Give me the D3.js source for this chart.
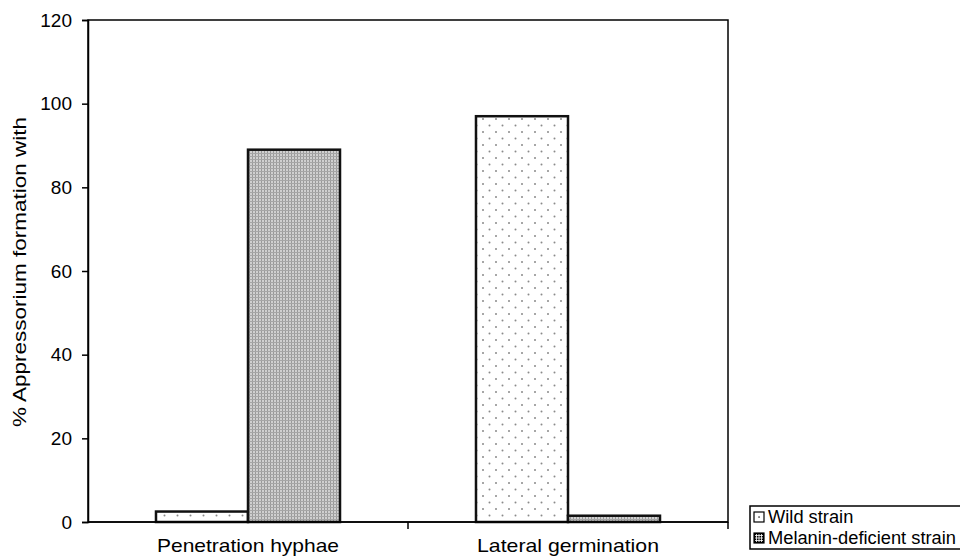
<!DOCTYPE html>
<html><head><meta charset="utf-8">
<script src="https://cdnjs.cloudflare.com/ajax/libs/d3/7.8.5/d3.min.js"></script>
<style>body{margin:0;background:#fff}svg{display:block}text{font-family:"Liberation Sans",Arial,sans-serif}</style>
</head><body>
<script>
const categories = ["Penetration hyphae", "Lateral germination"];
const seriesNames = ["Wild strain", "Melanin-deficient strain"];
const wildValues = [2.5, 97];
const melaninValues = [89, 1.5];
const yTicks = [0, 20, 40, 60, 80, 100, 120];

const W = 960, H = 556;
const m = {left: 88, top: 20, right: 728, bottom: 522};
const svg = d3.select("body").append("svg").attr("width", W).attr("height", H);

const defs = svg.append("defs");
const pw = defs.append("pattern").attr("id","pWild").attr("patternUnits","userSpaceOnUse").attr("width",13).attr("height",13);
pw.append("rect").attr("width",13).attr("height",13).attr("fill","#fff");
pw.append("circle").attr("cx",2).attr("cy",2).attr("r",1).attr("fill","#8a8a8a");
pw.append("circle").attr("cx",8.5).attr("cy",8.5).attr("r",1).attr("fill","#8a8a8a");
const pm = defs.append("pattern").attr("id","pMel").attr("patternUnits","userSpaceOnUse").attr("width",3).attr("height",3);
pm.append("rect").attr("width",3).attr("height",3).attr("fill","#d0d0d0");
pm.append("rect").attr("x",0).attr("y",0).attr("width",1).attr("height",3).attr("fill","#999");
pm.append("rect").attr("x",0).attr("y",0).attr("width",3).attr("height",1).attr("fill","#a6a6a6");

const y = d3.scaleLinear().domain([0,120]).range([m.bottom, m.top]);
const x0 = d3.scaleBand().domain(categories).range([m.left, m.right]).padding(0);
const x1 = d3.scaleBand().domain(seriesNames).range([0, x0.bandwidth()]).paddingInner(0).paddingOuter(0.739);
const fills = ["url(#pWild)", "url(#pMel)"];

// frame
svg.append("rect").attr("x",m.left).attr("y",m.top).attr("width",m.right-m.left).attr("height",m.bottom-m.top)
  .attr("fill","none").attr("stroke","#000").attr("stroke-width",1.5);

const rows = categories.map((c,i)=>({cat:c, vals:[wildValues[i], melaninValues[i]]}));
const g = svg.append("g");
rows.forEach(r=>{
  r.vals.forEach((v,j)=>{
    g.append("rect").attr("x", x0(r.cat)+x1(seriesNames[j])).attr("y", y(v))
      .attr("width", x1.bandwidth()).attr("height", y(0)-y(v))
      .attr("fill", fills[j]).attr("stroke","#111").attr("stroke-width",2.5);
  });
});

// y axis
const ya = svg.append("g").attr("transform",`translate(${m.left},0)`)
  .call(d3.axisLeft(y).tickValues(yTicks).tickSize(6).tickPadding(10));
ya.selectAll("path").attr("stroke","#000").attr("stroke-width",1.5);
ya.selectAll("line").attr("stroke","#000").attr("stroke-width",1.5);
ya.selectAll("text").attr("font-size",19).attr("fill","#000").attr("font-family","Liberation Sans, Arial, sans-serif");

// x axis
svg.append("line").attr("x1",m.left).attr("x2",m.right).attr("y1",m.bottom).attr("y2",m.bottom).attr("stroke","#000").attr("stroke-width",1.5);
const bounds = [m.left + x0.bandwidth(), m.right];
bounds.forEach(b=>svg.append("line").attr("x1",b).attr("x2",b).attr("y1",m.bottom).attr("y2",m.bottom+7).attr("stroke","#000").attr("stroke-width",1.5));
categories.forEach(c=>{
  svg.append("text").attr("x", x0(c)+x0.bandwidth()/2).attr("y", 552).attr("text-anchor","middle")
    .attr("font-size",19).attr("fill","#000")
    .attr("textLength",182).attr("lengthAdjust","spacingAndGlyphs").text(c);
});

// y label
svg.append("text").attr("transform","translate(26,272) rotate(-90)").attr("text-anchor","middle")
  .attr("font-size",19).attr("fill","#000")
  .attr("textLength",310).attr("lengthAdjust","spacingAndGlyphs")
  .text("% Appressorium formation with");

// legend
const lg = svg.append("g");
lg.append("rect").attr("x",750).attr("y",506).attr("width",215).attr("height",43).attr("fill","#fff").attr("stroke","#000").attr("stroke-width",1.5);
seriesNames.forEach((s,i)=>{
  const yy = 512 + i*21;
  lg.append("rect").attr("x",754).attr("y",yy).attr("width",10).attr("height",10)
    .attr("fill", i===0 ? "#fff" : "#000").attr("stroke","#000").attr("stroke-width",1.2);
  if(i===0){
    lg.append("rect").attr("x",758.4).attr("y",yy+4.4).attr("width",1.3).attr("height",1.3).attr("fill","#000");
  } else {
    [2.5,5,7.5].forEach(o=>{
      lg.append("line").attr("x1",754+o).attr("x2",754+o).attr("y1",yy+1).attr("y2",yy+9).attr("stroke","#fff").attr("stroke-width",0.8);
      lg.append("line").attr("y1",yy+o).attr("y2",yy+o).attr("x1",755).attr("x2",763).attr("stroke","#fff").attr("stroke-width",0.8);
    });
  }
  lg.append("text").attr("x",768).attr("y",yy+11).attr("font-size",18.3).attr("fill","#000").text(s);
});
</script>
</body></html>
